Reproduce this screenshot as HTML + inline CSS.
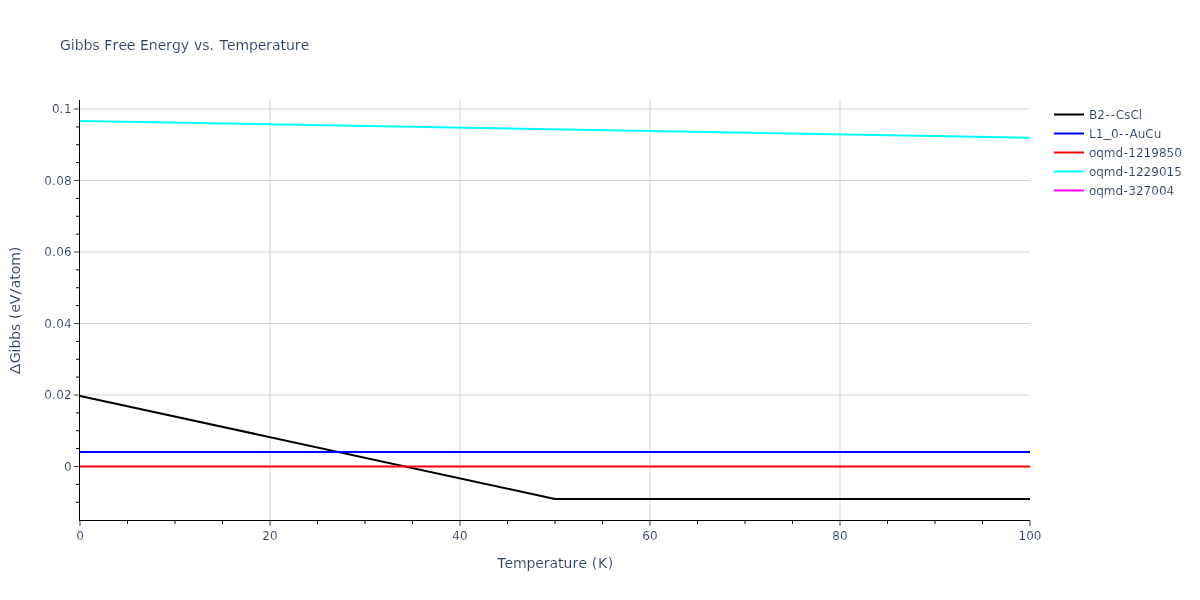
<!DOCTYPE html>
<html lang="en"><head><meta charset="utf-8"><title>Gibbs Free Energy vs. Temperature</title>
<style>html,body{margin:0;padding:0;background:#fff;width:1200px;height:600px;overflow:hidden}svg{display:block;will-change:transform}text{font-family:"DejaVu Sans", "Liberation Sans", sans-serif;fill:#2a3f5f;white-space:pre;font-kerning:none;stroke:#fff;stroke-width:0.12px;paint-order:fill stroke}</style></head><body>
<svg width="1200" height="600" viewBox="0 0 1200 600">
<rect x="0" y="0" width="1200" height="600" fill="#fff"/>
<g stroke="#d3d3d3" stroke-width="1" fill="none">
<path d="M270,100 V520"/>
<path d="M460,100 V520"/>
<path d="M650,100 V520"/>
<path d="M840,100 V520"/>
<path d="M80,466.5 H1030"/>
<path d="M80,395 H1030"/>
<path d="M80,323.5 H1030"/>
<path d="M80,252 H1030"/>
<path d="M80,180.5 H1030"/>
<path d="M80,109 H1030"/>
</g>
<defs><clipPath id="clip"><rect x="80" y="100" width="950" height="420"/></clipPath></defs>
<g clip-path="url(#clip)" fill="none" stroke-width="2" stroke-linejoin="round">
<path stroke="#000000" d="M80,396 L555,498.9 L1030,498.9"/>
<path stroke="#0000ff" d="M80,452 L1030,452"/>
<path stroke="#ff0000" d="M80,466.5 L1030,466.5"/>
<path stroke="#00ffff" d="M80,121 L1030,137.75"/>
</g>
<g stroke="#444" stroke-width="1" fill="none">
<path d="M80,521 v5"/>
<path d="M127.5,521 v3" stroke="#000"/>
<path d="M175,521 v3" stroke="#000"/>
<path d="M222.5,521 v3" stroke="#000"/>
<path d="M270,521 v5"/>
<path d="M317.5,521 v3" stroke="#000"/>
<path d="M365,521 v3" stroke="#000"/>
<path d="M412.5,521 v3" stroke="#000"/>
<path d="M460,521 v5"/>
<path d="M507.5,521 v3" stroke="#000"/>
<path d="M555,521 v3" stroke="#000"/>
<path d="M602.5,521 v3" stroke="#000"/>
<path d="M650,521 v5"/>
<path d="M697.5,521 v3" stroke="#000"/>
<path d="M745,521 v3" stroke="#000"/>
<path d="M792.5,521 v3" stroke="#000"/>
<path d="M840,521 v5"/>
<path d="M887.5,521 v3" stroke="#000"/>
<path d="M935,521 v3" stroke="#000"/>
<path d="M982.5,521 v3" stroke="#000"/>
<path d="M1030,521 v5"/>
<path d="M79,502.25 h-3" stroke="#000"/>
<path d="M79,484.375 h-3" stroke="#000"/>
<path d="M79,466.5 h-5"/>
<path d="M79,448.625 h-3" stroke="#000"/>
<path d="M79,430.75 h-3" stroke="#000"/>
<path d="M79,412.875 h-3" stroke="#000"/>
<path d="M79,395 h-5"/>
<path d="M79,377.125 h-3" stroke="#000"/>
<path d="M79,359.25 h-3" stroke="#000"/>
<path d="M79,341.375 h-3" stroke="#000"/>
<path d="M79,323.5 h-5"/>
<path d="M79,305.625 h-3" stroke="#000"/>
<path d="M79,287.75 h-3" stroke="#000"/>
<path d="M79,269.875 h-3" stroke="#000"/>
<path d="M79,252 h-5"/>
<path d="M79,234.125 h-3" stroke="#000"/>
<path d="M79,216.25 h-3" stroke="#000"/>
<path d="M79,198.375 h-3" stroke="#000"/>
<path d="M79,180.5 h-5"/>
<path d="M79,162.625 h-3" stroke="#000"/>
<path d="M79,144.75 h-3" stroke="#000"/>
<path d="M79,126.875 h-3" stroke="#000"/>
<path d="M79,109 h-5"/>
</g>
<g stroke="#000" stroke-width="1" fill="none">
<path d="M79,520.5 H1030"/>
<path d="M79.5,100 V521"/>
</g>
<text x="76.18" y="540" font-size="12">0</text>
<text x="262.37 270.00" y="540" font-size="12">20</text>
<text x="452.37 460.00" y="540" font-size="12">40</text>
<text x="642.37 650.00" y="540" font-size="12">60</text>
<text x="832.37 840.00" y="540" font-size="12">80</text>
<text x="1018.55 1026.18 1033.82" y="540" font-size="12">100</text>
<text x="63.97" y="471" font-size="12">0</text>
<text x="44.34 51.97 56.34 63.97" y="399" font-size="12">0.02</text>
<text x="44.34 51.97 56.34 63.97" y="328" font-size="12">0.04</text>
<text x="44.34 51.97 56.34 63.97" y="256" font-size="12">0.06</text>
<text x="44.34 51.97 56.34 63.97" y="185" font-size="12">0.08</text>
<text x="51.97 59.60 63.97" y="113" font-size="12">0.1</text>
<text x="60.00 70.85 74.69 83.41 92.13 99.42 104.35 112.40 118.38 126.72 135.07 140.00 148.84 157.71 166.05 172.03 180.75 189.04 193.97 202.25 209.55 214.64 219.57 227.05 235.39 249.01 257.74 266.08 272.06 280.47 285.99 294.85 300.83" y="50" font-size="14">Gibbs Free Energy vs. Temperature</text>
<text x="497.13 504.61 512.95 526.57 535.29 543.64 549.62 558.03 563.55 572.41 578.38 586.73 591.66 598.01 607.72" y="568" font-size="14">Temperature (K)</text>
<text y="0" font-size="14" transform="translate(20 310) rotate(-90)"><tspan x="-64.16" textLength="10.60" lengthAdjust="spacingAndGlyphs">Δ</tspan><tspan x="-53.23 -42.39 -38.55 -29.83 -21.11 -13.81 -8.88 -2.53 5.82">Gibbs (eV</tspan><tspan x="15.63" textLength="5.88" lengthAdjust="spacingAndGlyphs">/</tspan><tspan x="21.75 30.16 35.68 44.18 57.80">atom)</tspan></text>
<path d="M1054,114.5 H1084" stroke="#000000" stroke-width="2" fill="none"/>
<text x="1089.00 1097.23 1105.40 1110.85 1115.76 1124.14 1130.39 1138.76" y="119" font-size="12">B2--CsCl</text>
<path d="M1054,133.5 H1084" stroke="#0000ff" stroke-width="2" fill="none"/>
<text y="138" font-size="12"><tspan x="1089.00 1095.68">L1</tspan><tspan x="1103.27" dy="-0.6" textLength="7.70" lengthAdjust="spacingAndGlyphs">_</tspan><tspan x="1110.95 1119.12 1124.57 1129.48 1137.68 1145.28 1153.66" dy="0.6">0--AuCu</tspan></text>
<path d="M1054,152.5 H1084" stroke="#ff0000" stroke-width="2" fill="none"/>
<text x="1089.00 1096.28 1103.76 1115.44 1123.45 1128.36 1135.99 1143.62 1151.26 1158.89 1166.52 1174.15" y="157" font-size="12">oqmd-1219850</text>
<path d="M1054,171.5 H1084" stroke="#00ffff" stroke-width="2" fill="none"/>
<text x="1089.00 1096.28 1103.76 1115.44 1123.45 1128.36 1135.99 1143.62 1151.26 1158.89 1166.52 1174.15" y="176" font-size="12">oqmd-1229015</text>
<path d="M1054,190.5 H1084" stroke="#ff00ff" stroke-width="2" fill="none"/>
<text x="1089.00 1096.28 1103.76 1115.44 1123.45 1128.36 1135.99 1143.62 1151.26 1158.89 1166.52" y="195" font-size="12">oqmd-327004</text>
</svg></body></html>
